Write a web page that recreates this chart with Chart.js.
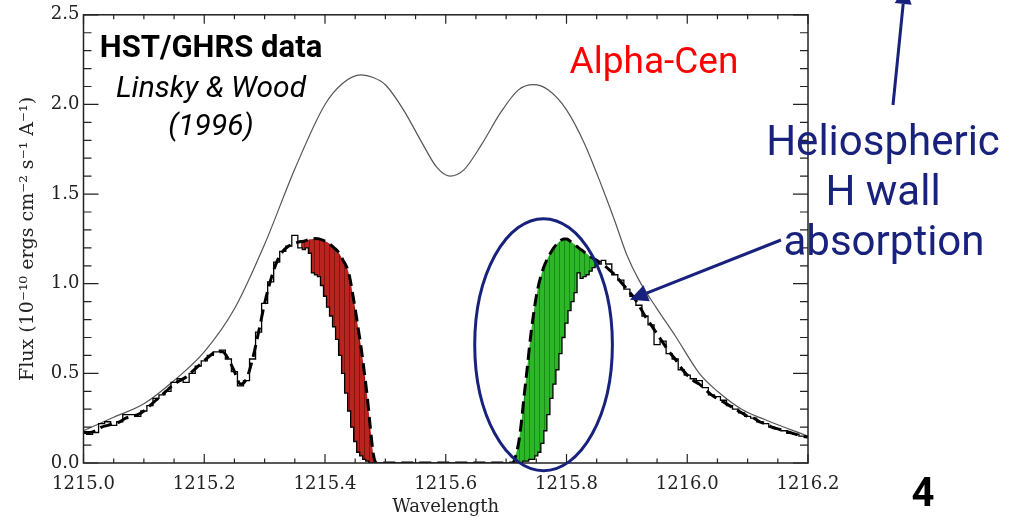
<!DOCTYPE html>
<html>
<head>
<meta charset="utf-8">
<title>Alpha-Cen Lyman alpha</title>
<script src="https://cdn.jsdelivr.net/npm/chart.js@4.4.1/dist/chart.umd.min.js"></script>
<style>
  html, body { margin: 0; padding: 0; background: #fff; }
  canvas { display: block; }
</style>
</head>
<body>
<canvas id="lya" width="1009" height="518"></canvas>
<script>
// wavelength grid of the observed spectrum (Angstrom), finer on the steep edges
const wavelength = [
  1215.00,1215.01,1215.02,1215.03,1215.04,1215.05,1215.06,1215.07,1215.08,1215.09,
  1215.10,1215.11,1215.12,1215.13,1215.14,1215.15,1215.16,1215.17,1215.18,1215.19,
  1215.20,1215.21,1215.22,1215.23,1215.24,1215.25,1215.26,1215.27,1215.28,1215.29,
  1215.30,1215.31,1215.32,1215.33,1215.34,1215.35,1215.36,
  1215.365,1215.37,1215.375,1215.38,1215.385,1215.39,1215.395,1215.40,1215.405,1215.41,
  1215.415,1215.42,1215.425,1215.43,1215.435,1215.44,1215.445,1215.45,1215.455,1215.46,
  1215.465,1215.47,1215.475,1215.48,1215.485,1215.49,
  1215.50,1215.51,1215.52,1215.53,1215.54,1215.55,1215.56,1215.57,1215.58,1215.59,
  1215.60,1215.61,1215.62,1215.63,1215.64,1215.65,1215.66,1215.67,1215.68,1215.69,
  1215.70,1215.71,1215.72,
  1215.725,1215.73,1215.735,1215.74,1215.745,1215.75,1215.755,1215.76,1215.765,1215.77,
  1215.775,1215.78,1215.785,1215.79,1215.795,1215.80,1215.805,1215.81,1215.815,1215.82,
  1215.825,1215.83,1215.835,1215.84,1215.845,1215.85,1215.855,1215.86,
  1215.87,1215.88,1215.89,1215.90,1215.91,1215.92,1215.93,1215.94,1215.95,1215.96,
  1215.97,1215.98,1215.99,1216.00,1216.01,1216.02,1216.03,1216.04,1216.05,1216.06,
  1216.07,1216.08,1216.09,1216.10,1216.11,1216.12,1216.13,1216.14,1216.15,1216.16,
  1216.17,1216.18,1216.19,1216.20
];

// observed HST/GHRS flux (histogram)
const observedFlux = [
  0.17,0.16,0.17,0.22,0.23,0.21,0.23,0.27,0.27,0.26,
  0.29,0.32,0.36,0.38,0.40,0.45,0.47,0.45,0.50,0.54,
  0.57,0.60,0.62,0.63,0.58,0.51,0.43,0.46,0.58,0.73,
  0.89,1.01,1.12,1.18,1.21,1.27,1.20,
  1.19,1.20,1.17,1.06,1.05,1.04,0.99,0.93,0.87,0.82,
  0.76,0.69,0.60,0.50,0.39,0.29,0.20,0.12,0.06,0.04,
  0.02,0.01,0.00,0.00,0.00,0.00,
  0.00,0.00,0.00,0.00,0.00,0.00,0.00,0.00,0.00,0.00,
  0.00,0.00,0.00,0.00,0.00,0.00,0.00,0.00,0.00,0.00,
  0.00,0.00,0.00,
  0.00,0.01,0.01,0.02,0.02,0.04,0.06,0.11,0.18,0.27,
  0.36,0.44,0.52,0.61,0.70,0.78,0.85,0.90,0.95,1.06,
  1.03,1.04,1.05,1.07,1.09,1.12,1.11,1.13,
  1.11,1.05,1.02,0.97,0.93,0.88,0.82,0.77,0.66,0.68,
  0.61,0.58,0.52,0.49,0.47,0.46,0.42,0.38,0.37,0.35,
  0.32,0.30,0.28,0.26,0.25,0.23,0.22,0.20,0.19,0.18,
  0.165,0.16,0.15,0.145
];

// profile absorbed by the ISM only (dashed)
const ismModelFlux = [
  0.17,0.17,0.18,0.20,0.21,0.22,0.23,0.25,0.26,0.27,
  0.29,0.32,0.35,0.38,0.41,0.44,0.46,0.48,0.51,0.54,
  0.57,0.60,0.62,0.62,0.58,0.51,0.44,0.47,0.58,0.73,
  0.89,1.02,1.12,1.18,1.21,1.225,1.235,
  1.237,1.243,1.248,1.25,1.252,1.25,1.245,1.238,1.228,1.215,
  1.20,1.185,1.16,1.13,1.10,1.05,0.96,0.86,0.75,0.64,
  0.51,0.37,0.20,0.05,0.00,0.00,
  0.00,0.00,0.00,0.00,0.00,0.00,0.00,0.00,0.00,0.00,
  0.00,0.00,0.00,0.00,0.00,0.00,0.00,0.00,0.00,0.00,
  0.00,0.00,0.10,
  0.22,0.38,0.53,0.69,0.82,0.93,1.01,1.07,1.115,1.15,
  1.18,1.205,1.225,1.24,1.25,1.25,1.24,1.228,1.215,1.20,
  1.188,1.175,1.163,1.15,1.14,1.13,1.12,1.11,
  1.08,1.05,1.01,0.97,0.93,0.88,0.82,0.77,0.72,0.67,
  0.62,0.58,0.53,0.49,0.46,0.44,0.41,0.38,0.36,0.34,
  0.32,0.30,0.28,0.26,0.25,0.23,0.22,0.20,0.19,0.18,
  0.17,0.16,0.15,0.145
];

// intrinsic stellar profile (thin grey)
const intrinsicWave = [
  1215.00,1215.05,1215.10,1215.15,1215.20,1215.25,1215.30,1215.35,1215.40,1215.43,
  1215.46,1215.48,1215.50,1215.53,1215.56,1215.585,1215.607,1215.63,1215.66,1215.69,
  1215.72,1215.745,1215.77,1215.80,1215.83,1215.86,1215.88,1215.90,1215.92,1215.95,
  1215.98,1216.02,1216.05,1216.09,1216.13,1216.20
];
const intrinsicFlux = [
  0.18,0.255,0.33,0.46,0.62,0.86,1.22,1.64,2.00,2.12,
  2.165,2.15,2.11,1.97,1.79,1.65,1.60,1.635,1.78,1.95,
  2.08,2.11,2.08,1.97,1.78,1.53,1.35,1.16,1.02,0.86,
  0.71,0.50,0.40,0.30,0.24,0.15
];

// absorption bands: wavelength ranges that are shaded
const blueSideBand = [1215.36, 1215.49];   // red shading
const redSideBand = [1215.71, 1215.855];   // green shading (heliospheric H wall)

const xTickValues = [1215.0, 1215.2, 1215.4, 1215.6, 1215.8, 1216.0, 1216.2];
const yTickValues = [0.0, 0.5, 1.0, 1.5, 2.0, 2.5];

const navy = 'rgb(24,34,125)';
const axisFont = { family: 'DejaVu Serif', size: 18 };

const canvas = document.getElementById('lya');
const ctx = canvas.getContext('2d');

let toPoints = (xs, ys) => xs.map((x, i) => ({ x, y: ys[i] }));
let inBand = (ys, band) => toPoints(wavelength, ys).filter(p => p.x >= band[0] - 1e-9 && p.x <= band[1] + 1e-9);

// vertical hatching like the original IDL polyfill
let stripes = (base, dark) => {
  const c = document.createElement('canvas');
  c.width = 5; c.height = 5;
  const g = c.getContext('2d');
  g.fillStyle = base; g.fillRect(0, 0, 5, 5);
  g.fillStyle = dark; g.fillRect(4, 0, 1, 5);
  return ctx.createPattern(c, 'repeat');
};

const bandStyle = { borderWidth: 0, borderColor: 'rgba(0,0,0,0)', pointRadius: 0, order: 10 };

// inward ticks on all four sides, box frame, annotations
const idlFrame = {
  id: 'idlFrame',
  afterDraw(chart) {
    const { ctx, chartArea: a, scales: { x, y } } = chart;
    ctx.save();
    ctx.strokeStyle = '#222';
    ctx.lineWidth = 1.5;
    ctx.strokeRect(a.left, a.top, a.right - a.left, a.bottom - a.top);

    let xMinor = [], yMinor = [];
    for (let i = 0; i < xTickValues.length - 1; i++)
      for (let k = 1; k < 4; k++) xMinor.push(xTickValues[i] + k * 0.05);
    for (let i = 0; i < yTickValues.length - 1; i++)
      for (let k = 1; k < 5; k++) yMinor.push(yTickValues[i] + k * 0.1);

    ctx.lineWidth = 1.2;
    ctx.beginPath();
    let xTick = (v, len) => {
      const px = x.getPixelForValue(v);
      ctx.moveTo(px, a.bottom); ctx.lineTo(px, a.bottom - len);
      ctx.moveTo(px, a.top); ctx.lineTo(px, a.top + len);
    };
    let yTick = (v, len) => {
      const py = y.getPixelForValue(v);
      ctx.moveTo(a.left, py); ctx.lineTo(a.left + len, py);
      ctx.moveTo(a.right, py); ctx.lineTo(a.right - len, py);
    };
    xTickValues.forEach(v => xTick(v, 9));
    xMinor.forEach(v => xTick(v, 4.5));
    yTickValues.forEach(v => yTick(v, 15));
    yMinor.forEach(v => yTick(v, 8));
    ctx.stroke();

    // ellipse round the H wall absorption
    const cx = x.getPixelForValue(1215.762), cy = y.getPixelForValue(0.66);
    const rx = x.getPixelForValue(1215.876) - cx, ry = cy - y.getPixelForValue(1.363);
    ctx.strokeStyle = navy;
    ctx.lineWidth = 3;
    ctx.beginPath();
    ctx.ellipse(cx, cy, rx, ry, 0, 0, Math.PI * 2);
    ctx.stroke();

    // arrows
    let arrow = (x0, y0, x1, y1) => {
      const dx = x1 - x0, dy = y1 - y0, d = Math.hypot(dx, dy);
      const ux = dx / d, uy = dy / d, head = 18, half = 8.5;
      const bx = x1 - ux * head, by = y1 - uy * head;
      ctx.strokeStyle = navy; ctx.fillStyle = navy; ctx.lineWidth = 3;
      ctx.beginPath(); ctx.moveTo(x0, y0); ctx.lineTo(bx, by); ctx.stroke();
      ctx.beginPath();
      ctx.moveTo(x1, y1);
      ctx.lineTo(bx - uy * half, by + ux * half);
      ctx.lineTo(bx + uy * half, by - ux * half);
      ctx.closePath(); ctx.fill();
    };
    arrow(781, 240, x.getPixelForValue(1215.905), y.getPixelForValue(0.91));
    arrow(893, 105, 905, -14);

    // text
    ctx.textAlign = 'center';
    ctx.textBaseline = 'alphabetic';
    ctx.fillStyle = '#000';
    ctx.font = 'bold 31px Roboto';
    ctx.fillText('HST/GHRS data', 211, 57);
    ctx.font = 'italic 30px Roboto';
    ctx.fillText('Linsky & Wood', 211, 97);
    ctx.fillText('(1996)', 211, 135);
    ctx.fillStyle = '#ff0000';
    ctx.font = '37px Roboto';
    ctx.fillText('Alpha-Cen', 654, 73);
    ctx.fillStyle = navy;
    ctx.font = '42px Roboto';
    ctx.fillText('Heliospheric', 883, 155);
    ctx.fillText('H wall', 883, 205);
    ctx.fillText('absorption', 884, 255);
    ctx.fillStyle = '#000';
    ctx.font = 'bold 40px Roboto';
    ctx.fillText('4', 923, 506);
    ctx.restore();
  }
};

const data = {
  datasets: [
    { // red shading, ISM model side
      ...bandStyle,
      data: inBand(ismModelFlux, blueSideBand),
      cubicInterpolationMode: 'monotone',
      fill: '+1',
      backgroundColor: stripes('rgb(186,36,30)', 'rgb(135,18,16)'),
    },
    { ...bandStyle, data: inBand(observedFlux, blueSideBand), stepped: 'middle', fill: false },
    { // green shading, ISM model side
      ...bandStyle,
      data: inBand(ismModelFlux, redSideBand),
      cubicInterpolationMode: 'monotone',
      fill: '+1',
      backgroundColor: stripes('rgb(44,182,40)', 'rgb(22,140,22)'),
    },
    { ...bandStyle, data: inBand(observedFlux, redSideBand), stepped: 'middle', fill: false },
    {
      label: 'intrinsic',
      data: toPoints(intrinsicWave, intrinsicFlux),
      borderColor: 'rgb(85,85,85)',
      borderWidth: 1.2,
      cubicInterpolationMode: 'monotone',
      pointRadius: 0,
      fill: false,
      order: 5,
    },
    {
      label: 'observed',
      data: toPoints(wavelength, observedFlux),
      borderColor: '#000',
      borderWidth: 1.3,
      stepped: 'middle',
      pointRadius: 0,
      fill: false,
      order: 2,
    },
    {
      label: 'ISM only',
      data: toPoints(wavelength, ismModelFlux),
      borderColor: '#000',
      borderWidth: 3,
      borderDash: [12, 6],
      cubicInterpolationMode: 'monotone',
      pointRadius: 0,
      fill: false,
      order: 1,
    },
  ],
};

const config = {
  type: 'line',
  data,
  options: {
    responsive: false,
    animation: false,
    devicePixelRatio: 1,
    layout: { padding: { top: 11.5, right: 201, left: 0, bottom: 0 } },
    plugins: { legend: { display: false }, tooltip: { enabled: false } },
    scales: {
      x: {
        type: 'linear',
        min: 1215.0,
        max: 1216.2,
        afterBuildTicks: s => { s.ticks = xTickValues.map(value => ({ value })); },
        afterFit: s => { s.height = 55; },
        grid: { display: false, drawTicks: false },
        border: { display: false },
        ticks: { font: axisFont, color: '#222', padding: 11, maxRotation: 0, autoSkip: false,
                 callback: v => v.toFixed(1) },
        title: { display: true, text: 'Wavelength', font: axisFont, color: '#222',
                 padding: { top: 0, bottom: 0 } },
      },
      y: {
        min: 0,
        max: 2.5,
        afterBuildTicks: s => { s.ticks = yTickValues.map(value => ({ value })); },
        afterFit: s => { s.width = 83.5; },
        grid: { display: false, drawTicks: false },
        border: { display: false },
        ticks: { font: axisFont, color: '#222', padding: 4, callback: v => v.toFixed(1) },
        title: { display: true, text: 'Flux (10\u207B\u00B9\u2070 ergs cm\u207B\u00B2 s\u207B\u00B9 A\u207B\u00B9)',
                 font: { family: 'DejaVu Serif', size: 19 }, color: '#222', padding: { top: 17, bottom: 0 } },
      },
    },
  },
  plugins: [idlFrame],
};

const lyaChart = new Chart(ctx, config);
</script>
</body>
</html>
